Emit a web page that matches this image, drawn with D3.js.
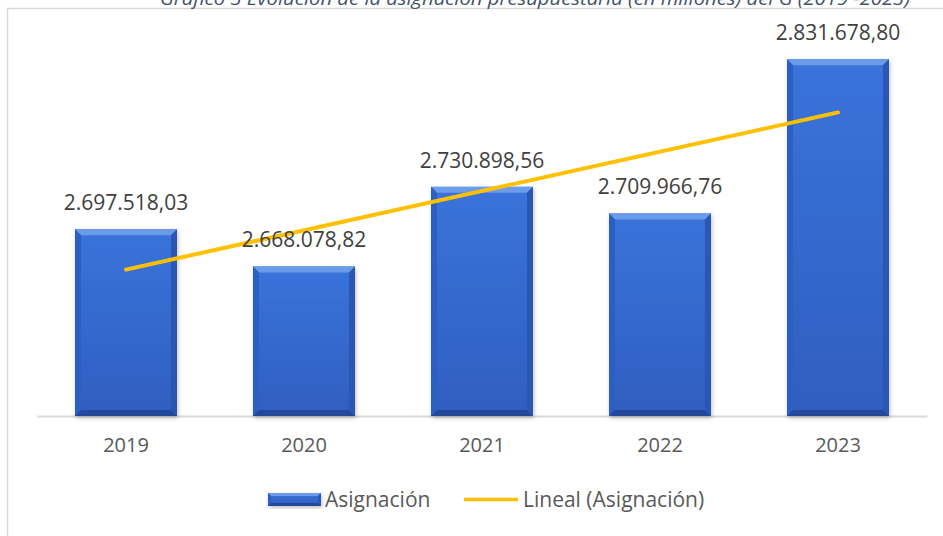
<!DOCTYPE html>
<html lang="es">
<head>
    <meta charset="UTF-8">
    <title>Asignación presupuestaria</title>
    <script src="https://d3js.org/d3.v7.min.js"></script>
    <style>
        body { margin: 0; background: #fff; font-family: "Open Sans", Arial, sans-serif; }
        svg { display: block; }
        .val { font-size: 21px; fill: #404040; }
        .tick text { font-size: 20px; fill: #595959; font-family: "Open Sans", Arial, sans-serif; }
        .legend-label { font-size: 21px; fill: #595959; }
    </style>
</head>
<body>
<svg id="svg" width="943" height="536"></svg>
<script>
    // data
    const years = ["2019", "2020", "2021", "2022", "2023"];
    const asignacion = [2697518.03, 2668078.82, 2730898.56, 2709966.76, 2831678.80];
    const valueLabels = ["2.697.518,03", "2.668.078,82", "2.730.898,56", "2.709.966,76", "2.831.678,80"];
    const yDomain = [2550000, 2850000];
    const titleText = "Gráfico 3 Evolución de la asignación presupuestaria (en millones) del G (2019 -2023)";

    const svg = d3.select("#svg");
    const width = 943, height = 536;
    const margin = { top: 36, right: 16, bottom: 120, left: 37 };

    const x = d3.scaleBand()
        .domain(years)
        .range([margin.left, width - margin.right])
        .paddingInner(0.427)
        .paddingOuter(0.2135);

    const y = d3.scaleLinear()
        .domain(yDomain)
        .range([height - margin.bottom, margin.top]);

    const defs = svg.append("defs");
    const grad = defs.append("linearGradient").attr("id", "face")
        .attr("x1", 0).attr("y1", 0).attr("x2", 0).attr("y2", 1);
    grad.append("stop").attr("offset", "0%").attr("stop-color", "#3a73db");
    grad.append("stop").attr("offset", "100%").attr("stop-color", "#2f5ebf");

    const shadow = defs.append("filter").attr("id", "shadow")
        .attr("x", "-10%").attr("y", "-10%").attr("width", "130%").attr("height", "130%");
    shadow.append("feDropShadow").attr("dx", 1).attr("dy", 2).attr("stdDeviation", 2)
        .attr("flood-color", "#000").attr("flood-opacity", 0.25);

    // chart border
    svg.append("rect")
        .attr("x", 7.5).attr("y", 8.5)
        .attr("width", 960).attr("height", 560)
        .attr("fill", "none").attr("stroke", "#d9d9d9").attr("stroke-width", 1.5);

    // title (partially cut at the top, as in the source)
    svg.append("text")
        .attr("x", 535).attr("y", 5)
        .attr("text-anchor", "middle")
        .attr("font-style", "italic")
        .attr("font-size", 18)
        .attr("fill", "#44546a")
        .attr("textLength", 750)
        .attr("lengthAdjust", "spacingAndGlyphs")
        .text(titleText);

    // axis
    const xAxis = d3.axisBottom(x).tickSize(0).tickPadding(22);
    const gx = svg.append("g")
        .attr("transform", `translate(0,${y(yDomain[0])})`)
        .call(xAxis);
    gx.select(".domain").attr("stroke", "#d9d9d9").attr("stroke-width", 2);

    // beveled bar drawing
    function bevelBar(g, x0, y0, w, h, b) {
        g.append("rect").attr("x", x0).attr("y", y0).attr("width", w).attr("height", h)
            .attr("fill", "url(#face)").attr("filter", "url(#shadow)");
        const x1 = x0 + w, y1 = y0 + h;
        const pts = a => a.map(p => p.join(",")).join(" ");
        g.append("polygon").attr("points", pts([[x0, y0], [x1, y0], [x1 - b, y0 + b], [x0 + b, y0 + b]]))
            .attr("fill", "#6a9ce9");
        g.append("polygon").attr("points", pts([[x0, y0], [x0 + b, y0 + b], [x0 + b, y1 - b], [x0, y1]]))
            .attr("fill", "#2c5fc4");
        g.append("polygon").attr("points", pts([[x1, y0], [x1, y1], [x1 - b, y1 - b], [x1 - b, y0 + b]]))
            .attr("fill", "#2a57b3");
        g.append("polygon").attr("points", pts([[x0, y1], [x0 + b, y1 - b], [x1 - b, y1 - b], [x1, y1]]))
            .attr("fill", "#25499a");
    }

    const bars = svg.append("g");
    years.forEach((yr, i) => {
        const g = bars.append("g");
        bevelBar(g, x(yr), y(asignacion[i]), x.bandwidth(), y(yDomain[0]) - y(asignacion[i]), 6);
    });

    // linear trend line (least squares over category index)
    const n = asignacion.length;
    const xs = d3.range(1, n + 1);
    const mx = d3.mean(xs), my = d3.mean(asignacion);
    const slope = d3.sum(xs, (v, i) => (v - mx) * (asignacion[i] - my)) / d3.sum(xs, v => (v - mx) ** 2);
    const trend = xs.map(v => my + slope * (v - mx));
    const cx = yr => x(yr) + x.bandwidth() / 2;

    svg.append("line")
        .attr("x1", cx(years[0])).attr("y1", y(trend[0]))
        .attr("x2", cx(years[n - 1])).attr("y2", y(trend[n - 1]))
        .attr("stroke", "#ffc000").attr("stroke-width", 4).attr("stroke-linecap", "round");

    // value labels
    svg.selectAll(".val")
        .data(asignacion)
        .enter()
        .append("text")
        .attr("class", "val")
        .attr("x", (d, i) => cx(years[i]))
        .attr("y", d => y(d) - 19)
        .attr("text-anchor", "middle")
        .text((d, i) => valueLabels[i]);

    // legend
    const leg = svg.append("g");
    bevelBar(leg, 268, 493, 53, 13, 3);
    leg.append("text").attr("class", "legend-label").attr("x", 325).attr("y", 507).text("Asignación");
    leg.append("line").attr("x1", 464).attr("x2", 518).attr("y1", 499.5).attr("y2", 499.5)
        .attr("stroke", "#ffc000").attr("stroke-width", 3.5);
    leg.append("text").attr("class", "legend-label").attr("x", 523).attr("y", 507).text("Lineal (Asignación)");
</script>
</body>
</html>
